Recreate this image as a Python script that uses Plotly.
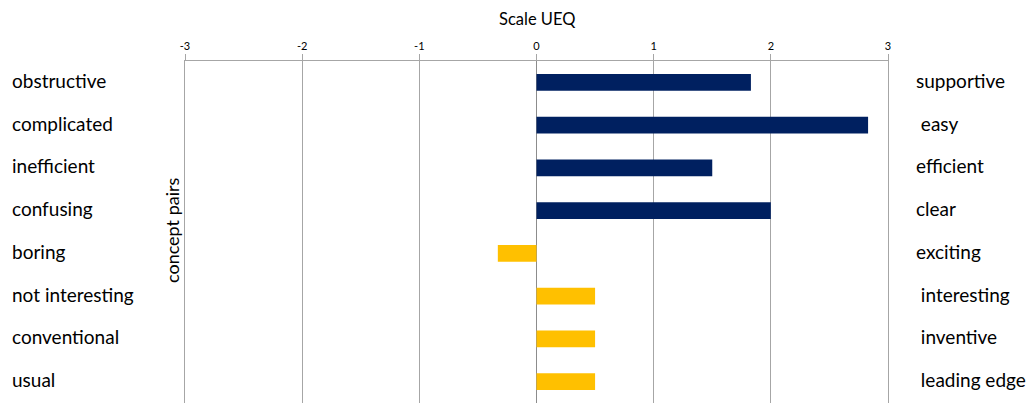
import plotly.graph_objects as go

left_labels = ["obstructive", "complicated", "inefficient", "confusing",
               "boring", "not interesting", "conventional", "usual"]
right_labels = ["supportive", " easy", "efficient", "clear",
                "exciting", " interesting", " inventive", " leading edge"]
values = [1.83, 2.83, 1.50, 2.00, -0.33, 0.50, 0.50, 0.50]
colors = ["#002060"] * 4 + ["#FFC000"] * 4
x_ticks = [-3, -2, -1, 0, 1, 2, 3]

FONT = "Lato"
L, R = 185, 146
PW = 1034 - L - R

fig = go.Figure()
fig.add_trace(go.Bar(
    y=left_labels, x=values, orientation="h",
    marker=dict(color=colors, line=dict(width=0)),
    width=0.39, showlegend=False,
))

ann = []
for lab in left_labels:
    ann.append(dict(x=(10 - L) / PW, xref="paper", y=lab, yref="y", yshift=2,
                    text=lab, showarrow=False, xanchor="left", yanchor="middle",
                    font=dict(family=FONT, size=19, color="#000")))
for lab, rl in zip(left_labels, right_labels):
    ann.append(dict(x=(914 - L) / PW, xref="paper", y=lab, yref="y", yshift=2,
                    text=rl.replace(" ", "&nbsp;"), showarrow=False, xanchor="left",
                    yanchor="middle",
                    font=dict(family=FONT, size=19, color="#000")))
ann.append(dict(x=0.5, xref="paper", y=1, yref="paper", yshift=42,
                text="Scale UEQ", showarrow=False, xanchor="center", yanchor="middle",
                font=dict(family=FONT, size=16.5, color="#000")))
ann.append(dict(x=(172 - L) / PW, xref="paper", y=(403 - 230) / 342, yref="paper",
                text="concept pairs", textangle=-90, showarrow=False,
                xanchor="center", yanchor="middle",
                font=dict(family=FONT, size=18, color="#000")))

fig.update_layout(
    width=1034, height=407,
    margin=dict(l=L, r=R, t=61, b=4),
    paper_bgcolor="white", plot_bgcolor="white",
    annotations=ann,
    xaxis=dict(side="top", range=[-3, 3], tickvals=x_ticks,
               ticktext=[str(v) for v in x_ticks],
               showgrid=True, gridcolor="#a6a6a6", gridwidth=1,
               zeroline=True, zerolinecolor="#8c8c8c", zerolinewidth=1,
               showline=True, linecolor="#a6a6a6", linewidth=1,
               ticks="outside", ticklen=6, tickcolor="#a6a6a6",
               tickfont=dict(family=FONT, size=11, color="#000")),
    yaxis=dict(categoryorder="array", categoryarray=left_labels,
               range=[7.5, -0.5], showticklabels=False, showgrid=False,
               zeroline=False, showline=True, mirror=True,
               linecolor="#a6a6a6", linewidth=1),
)

fig.write_html("out.html")
